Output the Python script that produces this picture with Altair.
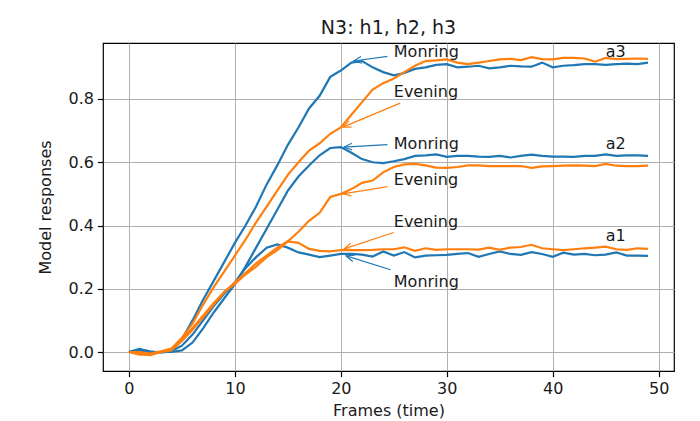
import math
import altair as alt
import pandas as pd

frames = list(range(50))

morning_a1 = [0.000, 0.008, 0.002, -0.002, 0.003, 0.020, 0.055, 0.100, 0.145, 0.185,
              0.220, 0.265, 0.300, 0.330, 0.340, 0.330, 0.315, 0.308, 0.300, 0.305,
              0.310, 0.310, 0.308, 0.302, 0.318, 0.305, 0.316, 0.299, 0.305, 0.306,
              0.307, 0.310, 0.313, 0.301, 0.310, 0.318, 0.310, 0.307, 0.316, 0.310,
              0.301, 0.314, 0.308, 0.310, 0.306, 0.308, 0.315, 0.305, 0.305, 0.304]
evening_a1 = [0.000, -0.008, -0.008, 0.000, 0.005, 0.035, 0.070, 0.110, 0.150, 0.190,
              0.215, 0.245, 0.270, 0.300, 0.322, 0.350, 0.345, 0.326, 0.320, 0.318,
              0.322, 0.322, 0.322, 0.323, 0.325, 0.325, 0.331, 0.320, 0.328, 0.323,
              0.325, 0.325, 0.325, 0.324, 0.330, 0.323, 0.330, 0.332, 0.339, 0.328,
              0.325, 0.322, 0.325, 0.328, 0.330, 0.333, 0.325, 0.323, 0.328, 0.326]
morning_a2 = [0.000, 0.010, 0.000, 0.000, 0.000, 0.005, 0.030, 0.075, 0.125, 0.170,
              0.215, 0.270, 0.330, 0.390, 0.450, 0.510, 0.555, 0.590, 0.622, 0.645,
              0.648, 0.630, 0.610, 0.600, 0.597, 0.603, 0.610, 0.620, 0.622, 0.625,
              0.617, 0.620, 0.620, 0.618, 0.617, 0.620, 0.615, 0.620, 0.624, 0.620,
              0.618, 0.618, 0.617, 0.620, 0.620, 0.625, 0.620, 0.622, 0.622, 0.620]
evening_a2 = [0.000, 0.000, -0.005, 0.002, 0.010, 0.040, 0.075, 0.115, 0.155, 0.190,
              0.220, 0.250, 0.280, 0.305, 0.330, 0.350, 0.380, 0.415, 0.440, 0.490,
              0.500, 0.515, 0.535, 0.542, 0.568, 0.585, 0.593, 0.595, 0.590, 0.583,
              0.582, 0.585, 0.590, 0.590, 0.588, 0.588, 0.588, 0.588, 0.582, 0.587,
              0.588, 0.589, 0.590, 0.589, 0.588, 0.595, 0.589, 0.588, 0.588, 0.589]
morning_a3 = [0.000, 0.005, 0.000, 0.000, 0.005, 0.040, 0.100, 0.165, 0.225, 0.285,
              0.345, 0.400, 0.460, 0.530, 0.590, 0.655, 0.710, 0.770, 0.810, 0.870,
              0.890, 0.915, 0.920, 0.900, 0.885, 0.875, 0.882, 0.895, 0.900, 0.908,
              0.910, 0.900, 0.902, 0.905, 0.897, 0.900, 0.905, 0.903, 0.902, 0.915,
              0.900, 0.905, 0.907, 0.910, 0.910, 0.908, 0.910, 0.912, 0.910, 0.915]
evening_a3 = [0.000, -0.005, -0.010, 0.000, 0.010, 0.045, 0.090, 0.150, 0.205, 0.255,
              0.305, 0.355, 0.410, 0.460, 0.510, 0.560, 0.600, 0.637, 0.660, 0.690,
              0.710, 0.750, 0.790, 0.830, 0.850, 0.865, 0.885, 0.905, 0.920, 0.922,
              0.925, 0.915, 0.910, 0.915, 0.920, 0.925, 0.927, 0.923, 0.932, 0.926,
              0.925, 0.930, 0.930, 0.928, 0.918, 0.930, 0.926, 0.927, 0.928, 0.927]

# annotation arrows: text-side tail and tip near the curve
arrow_group = ["Monring", "Evening", "Monring", "Evening", "Evening", "Monring"]
arrow_tail_f = [24.4, 25.6, 24.4, 24.4, 25.0, 24.7]
arrow_tail_v = [0.935, 0.787, 0.656, 0.523, 0.378, 0.260]
arrow_tip_f = [21.2, 20.2, 20.3, 20.2, 20.3, 20.5]
arrow_tip_v = [0.920, 0.711, 0.648, 0.500, 0.326, 0.304]

label_text = ["Monring", "Evening", "Monring", "Evening", "Evening", "Monring", "a3", "a2", "a1"]
label_f = [25, 25, 25, 25, 25, 25, 45, 45, 45]
label_v = [0.933, 0.807, 0.643, 0.527, 0.396, 0.206, 0.933, 0.643, 0.352]

X_DOM = [-2.45, 51.45]
Y_DOM = [-0.06, 0.977]
W, H = 571, 328

BLUE, ORANGE = "#1f77b4", "#ff7f0e"
FONT = "DejaVu Sans"

rows = []
for name, grp, vals in [("a1m", "Monring", morning_a1), ("a2m", "Monring", morning_a2),
                        ("a3m", "Monring", morning_a3), ("a1e", "Evening", evening_a1),
                        ("a2e", "Evening", evening_a2), ("a3e", "Evening", evening_a3)]:
    for f, v in zip(frames, vals):
        rows.append({"frame": f, "value": v, "series": name, "group": grp})
df = pd.DataFrame(rows)

sx = W / (X_DOM[1] - X_DOM[0])
sy = H / (Y_DOM[1] - Y_DOM[0])
arr = pd.DataFrame({"group": arrow_group, "tf": arrow_tail_f, "tv": arrow_tail_v,
                    "hf": arrow_tip_f, "hv": arrow_tip_v})
arr["angle"] = [
    (math.degrees(math.atan2(-(hv - tv) * sy, (hf - tf) * sx)) + 360) % 360
    for tf, tv, hf, hv in zip(arr.tf, arr.tv, arr.hf, arr.hv)
]
labels = pd.DataFrame({"text": label_text, "f": label_f, "v": label_v})

color = alt.Color("group:N", scale=alt.Scale(domain=["Monring", "Evening"], range=[BLUE, ORANGE]),
                  legend=None)
xs = alt.Scale(domain=X_DOM, nice=False, zero=False)
ys = alt.Scale(domain=Y_DOM, nice=False, zero=False)

x_axis = alt.Axis(values=[0, 10, 20, 30, 40, 50], format="d", title="Frames (time)",
                  grid=True, titlePadding=6)
y_axis = alt.Axis(values=[0, 0.2, 0.4, 0.6, 0.8], format=".1f", title="Model responses",
                  grid=True, titlePadding=14)

lines_m = alt.Chart(df[df.group == "Monring"]).mark_line(strokeWidth=2.2).encode(
    x=alt.X("frame:Q", scale=xs, axis=x_axis),
    y=alt.Y("value:Q", scale=ys, axis=y_axis),
    detail="series:N",
    color=color,
)
lines_e = alt.Chart(df[df.group == "Evening"]).mark_line(strokeWidth=2.2).encode(
    x=alt.X("frame:Q", scale=xs),
    y=alt.Y("value:Q", scale=ys),
    detail="series:N",
    color=color,
)

arrow_lines = alt.Chart(arr).mark_rule(strokeWidth=1.2).encode(
    x=alt.X("tf:Q", scale=xs), y=alt.Y("tv:Q", scale=ys),
    x2="hf:Q", y2="hv:Q", color=color,
)
arrow_heads = alt.Chart(arr).mark_point(
    shape="M -1 -0.42 L 0 0 L -1 0.42", filled=False, size=256, strokeWidth=1.2, opacity=1
).encode(
    x=alt.X("hf:Q", scale=xs), y=alt.Y("hv:Q", scale=ys),
    angle=alt.Angle("angle:Q", scale=None), color=color,
)

texts = alt.Chart(labels).mark_text(align="left", baseline="alphabetic", fontSize=16,
                                    font=FONT, color="#1a1a1a").encode(
    x=alt.X("f:Q", scale=xs), y=alt.Y("v:Q", scale=ys), text="text:N",
)

chart = alt.layer(lines_m, lines_e, arrow_lines, arrow_heads, texts).properties(
    width=W, height=H,
    title=alt.TitleParams("N3: h1, h2, h3", fontSize=19, font=FONT, fontWeight="normal",
                          color="#1a1a1a", offset=5),
    autosize=alt.AutoSizeParams(type="none"),
    padding={"left": 95, "top": 35, "right": 10, "bottom": 50},
).configure_view(
    stroke="#000000", strokeWidth=1.2
).configure_axis(
    domain=False, gridColor="#b0b0b0", gridWidth=1, tickColor="#000000", tickWidth=1.2,
    tickSize=5.6, labelFont=FONT, labelFontSize=16, labelColor="#1a1a1a", labelPadding=4,
    titleFont=FONT, titleFontSize=16, titleFontWeight="normal", titleColor="#1a1a1a",
)

chart.save("out.html", embed_options={"renderer": "svg", "actions": False})
